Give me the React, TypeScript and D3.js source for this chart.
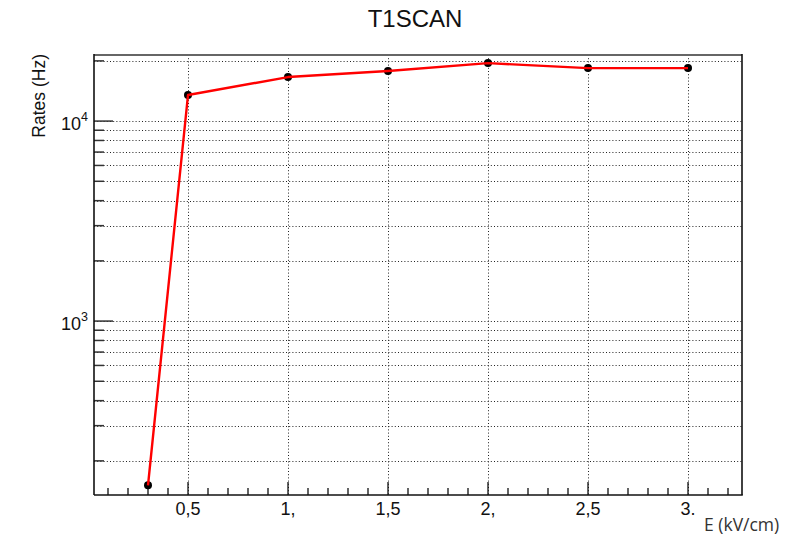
import React from "react";
import * as d3 from "d3";

// Field scan: rate vs. electric field
const fieldValues = [0.3, 0.5, 1.0, 1.5, 2.0, 2.5, 3.0];
const rateValues = [151, 13500, 16600, 17800, 19500, 18400, 18400];

const xMajorTicks = [0.5, 1.0, 1.5, 2.0, 2.5, 3.0];
const xTickLabels = ["0,5", "1,", "1,5", "2,", "2,5", "3."];
const yMajorTicks = [1000, 10000];
const yMajorExponents = ["3", "4"];

const chartTitle = "T1SCAN";
const xTitle = "E (kV/cm)";
const yTitle = "Rates (Hz)";

const W = 805;
const H = 538;
const frame = { left: 94, right: 742, top: 55, bottom: 495 };
const FONT = "'Liberation Sans', Arial, Helvetica, sans-serif";

export default function App() {
  const x = d3.scaleLinear().domain([0.03, 3.27]).range([frame.left, frame.right]);
  const y = d3.scaleLog().domain([135, 21400]).range([frame.bottom, frame.top]);

  // minor x ticks every 0.1
  const xMinor = d3.range(1, 33).map((i) => i / 10).filter((v) => v >= 0.03 && v <= 3.27);
  // log ticks 2..9 per decade
  const yMinor: number[] = [];
  [100, 1000, 10000].forEach((dec) => {
    for (let m = 2; m <= 9; m++) {
      const v = m * dec;
      if (v >= 135 && v <= 21400) yMinor.push(v);
    }
  });
  const yAll = [...yMinor, ...yMajorTicks];

  const points = fieldValues.map((f, i) => [f, rateValues[i]] as [number, number]);
  const line = d3
    .line<[number, number]>()
    .x((d) => x(d[0]))
    .y((d) => y(d[1]));

  return (
    <svg width={W} height={H} style={{ position: "absolute", left: 0, top: 0, background: "#fff" }}>
      <rect x={0} y={0} width={W} height={H} fill="#fff" />

      {/* grid */}
      <g stroke="#222" strokeWidth={1} strokeDasharray="1,2.2">
        {yAll.map((v) => (
          <line key={"gy" + v} x1={frame.left} x2={frame.right} y1={Math.round(y(v)) + 0.5} y2={Math.round(y(v)) + 0.5} />
        ))}
        {xMajorTicks.map((v) => (
          <line key={"gx" + v} x1={Math.round(x(v)) + 0.5} x2={Math.round(x(v)) + 0.5} y1={frame.top} y2={frame.bottom} />
        ))}
      </g>

      {/* x ticks */}
      <g stroke="#111" strokeWidth={1.3}>
        {xMinor.map((v) => {
          const major = xMajorTicks.some((m) => Math.abs(m - v) < 1e-6);
          return (
            <line key={"tx" + v} x1={x(v)} x2={x(v)} y1={frame.bottom} y2={frame.bottom - (major ? 13 : 7)} />
          );
        })}
      </g>

      {/* y ticks */}
      <g stroke="#333" strokeWidth={1.5}>
        {yAll.map((v) => {
          const major = yMajorTicks.includes(v);
          return (
            <line key={"ty" + v} x1={frame.left} x2={frame.left + (major ? 19 : 10)} y1={y(v)} y2={y(v)} />
          );
        })}
      </g>

      {/* frame */}
      <line x1={frame.left} x2={frame.right} y1={frame.top} y2={frame.top} stroke="#666" strokeWidth={2.2} />
      <line x1={frame.left} x2={frame.left} y1={frame.top - 1} y2={frame.bottom} stroke="#111" strokeWidth={1.6} />
      <line x1={frame.right} x2={frame.right} y1={frame.top - 1} y2={frame.bottom} stroke="#111" strokeWidth={1.6} />
      <line x1={frame.left} x2={frame.right + 0.8} y1={frame.bottom} y2={frame.bottom} stroke="#111" strokeWidth={1.6} />

      {/* markers then line */}
      {points.map((d, i) => (
        <circle key={"m" + i} cx={x(d[0])} cy={y(d[1])} r={4} fill="#000" />
      ))}
      <path d={line(points) || ""} fill="none" stroke="#ff0000" strokeWidth={2.4} strokeLinejoin="round" />

      {/* x tick labels */}
      <g fontFamily={FONT} fontSize={18} fill="#111" textAnchor="middle">
        {xMajorTicks.map((v, i) => (
          <text key={"lx" + v} x={x(v)} y={515}>
            {xTickLabels[i]}
          </text>
        ))}
      </g>

      {/* y tick labels */}
      <g fontFamily={FONT} fill="#111">
        {yMajorTicks.map((v, i) => (
          <text key={"ly" + v} x={88} y={y(v) + 9} textAnchor="end" fontSize={18}>
            10
            <tspan fontSize={12.5} dy={-9}>
              {yMajorExponents[i]}
            </tspan>
          </text>
        ))}
      </g>

      {/* titles */}
      <text x={415} y={27} textAnchor="middle" fontFamily={FONT} fontSize={24} fill="#111">
        {chartTitle}
      </text>
      <text
        transform={`translate(45, 54) rotate(-90)`}
        textAnchor="end"
        fontFamily={FONT}
        fontSize={17.5}
        fill="#111"
      >
        {yTitle}
      </text>
      <text x={704} y={531} fontFamily="'Open Sans', 'Noto Sans', sans-serif" fontSize={17.5} fill="#333">
        {xTitle}
      </text>
    </svg>
  );
}
